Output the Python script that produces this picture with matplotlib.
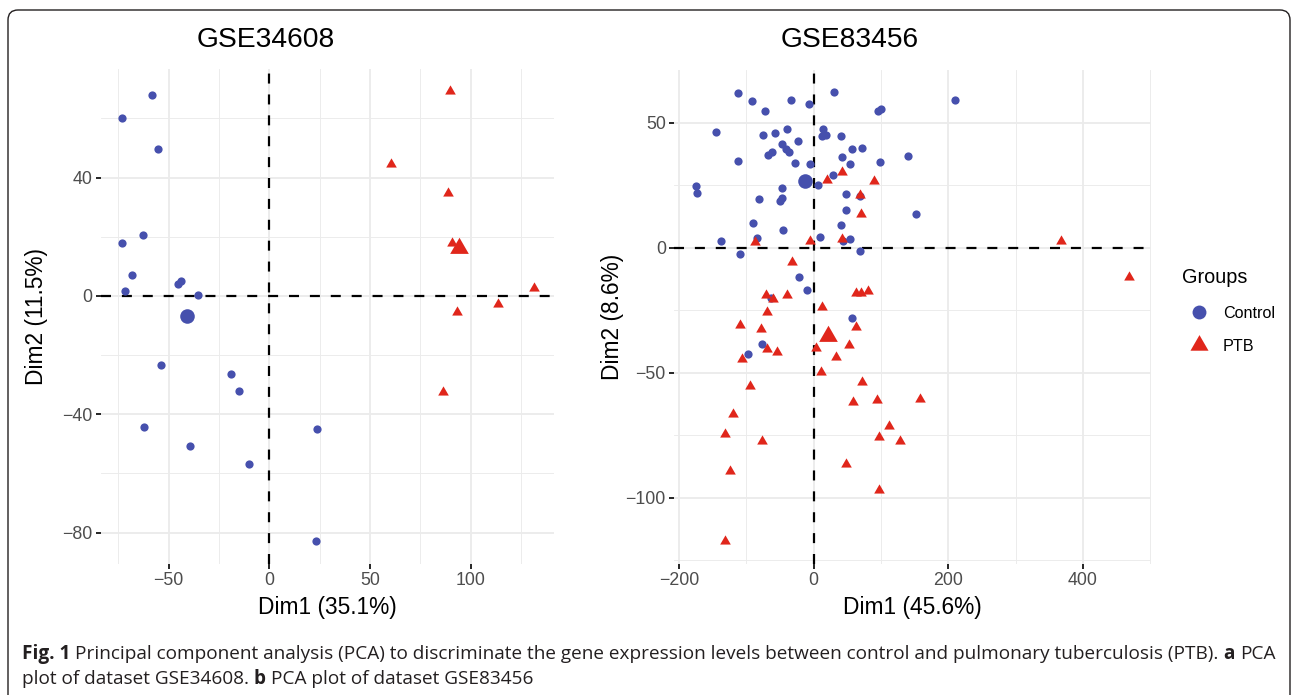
import matplotlib
matplotlib.use("Agg")
import matplotlib.pyplot as plt
from matplotlib import font_manager
from matplotlib.lines import Line2D
from matplotlib.path import Path
from matplotlib.patches import FancyBboxPatch
from matplotlib.transforms import IdentityTransform

# ---- data ----
groups = ["Control", "PTB"]

# GSE34608
a_ctrl_x = [-58.5, -73.4, -55.5, -62.9, -73.4, -68.0, -71.7, -45.6, -43.7, -35.2,
            -54.0, -19.0, -15.3, -62.3, 23.6, -39.4, -9.9, 23.4]
a_ctrl_y = [68.1, 60.1, 49.6, 20.5, 17.8, 7.1, 1.8, 4.1, 5.1, 0.3,
            -23.4, -26.4, -32.0, -44.2, -44.9, -50.7, -56.7, -82.9]
a_ptb_x = [89.6, 60.6, 88.9, 90.7, 131.3, 113.4, 93.3, 86.3]
a_ptb_y = [69.2, 44.5, 34.8, 17.8, 2.8, -2.6, -5.4, -32.5]
a_mean_x = [-40.8, 94.4]
a_mean_y = [-6.9, 16.1]

# GSE83456
b_ctrl_x = [-112.9, -92.1, -72.3, -33.7, -6.9, 30.2, 95.5, 100.5,
            -144.6, -75.2, -56.9, -39.1, -23.3, 13.9, 12.4, 18.3, 40.1,
            -46.5, -41.1, -36.6, -67.3, -61.4, -112.4, -27.2, -5.0,
            56.9, 71.3, 42.6, 53.5, 98.5, 139.6, 29.2, 5.9,
            -175.2, -173.3, -47.5, -81.7, -46.5, -49.5, 47.5, 68.8, 47.5, 151.5,
            -89.6, 41.1, -45.5, -138.1, -84.7, 8.9, 43.1, 54.0, -108.9, 69.3,
            -21.8, -9.4, 56.9, -76.2, -97.5, -62.9, 210.0]
b_ctrl_y = [62.0, 58.7, 54.8, 58.9, 57.5, 62.1, 54.8, 55.6,
            46.1, 45.2, 45.9, 47.3, 42.7, 47.6, 44.8, 44.9, 44.8,
            41.5, 39.6, 38.3, 36.9, 38.3, 34.7, 33.7, 33.3,
            39.6, 39.7, 36.4, 33.5, 34.3, 36.7, 29.2, 25.1,
            24.5, 21.7, 23.9, 19.3, 20.0, 18.7, 21.5, 20.7, 15.1, 13.6,
            10.0, 8.9, 6.9, 2.7, 3.9, 4.1, 2.5, 3.5, -2.7, -1.5,
            -11.9, -16.8, -28.1, -38.5, -42.7, -20.0, 59.0]
b_ptb_x = [19.8, 41.6, 89.1, 68.3, 69.8, -87.6, -5.9, 41.6, -31.7, 367.0, 469.0,
           -70.3, -59.9, -39.1, 11.9, -69.3, -108.9, -77.7, -69.3, -54.0, -106.4,
           3.0, 32.7, 52.5, 62.4, 62.4, 69.8, 80.7, 10.4, -94.6, 71.3, 57.9,
           94.6, 158.0, -119.8, -132.3, -77.5, 111.6, 97.3, 127.9, -124.1, 47.4,
           97.3, -132.2]
b_ptb_y = [27.1, 30.4, 26.7, 20.9, 13.5, 2.1, 2.8, 3.5, -5.9, 2.7, -11.9,
           -18.8, -20.4, -19.1, -23.7, -25.6, -30.9, -32.4, -40.5, -41.6, -44.7,
           -40.0, -43.7, -38.8, -31.7, -18.1, -18.1, -17.3, -49.7, -55.3, -53.7, -61.9,
           -60.8, -60.7, -66.4, -74.7, -77.3, -71.5, -75.7, -77.5, -89.3, -86.7,
           -96.8, -117.3]
b_mean_x = [-12.9, 20.8]
b_mean_y = [26.7, -35.2]

caption_line1 = [("Fig. 1", "bold"),
                 ("Principal component analysis (PCA) to discriminate the gene expression "
                  "levels between control and pulmonary tuberculosis (PTB).", "normal"),
                 ("a", "bold"), ("PCA", "normal")]
caption_line2 = [("plot of dataset GSE34608.", "normal"), ("b", "bold"),
                 ("PCA plot of dataset GSE83456", "normal")]

# ---- styling ----
W, H = 1293, 695
BLUE = "#4650AD"
RED = "#E0261B"
INK = "#231F20"
plt.rcParams["font.family"] = ["Liberation Sans", "DejaVu Sans"]

# equilateral triangle like ggplot shape 17
TRI = Path([(0, 0.577), (-0.5, -0.289), (0.5, -0.289), (0, 0.577)],
           [Path.MOVETO, Path.LINETO, Path.LINETO, Path.CLOSEPOLY])

fig = plt.figure(figsize=(W / 100, H / 100), dpi=100)


def rect(x0, y0, x1, y1):
    return [x0 / W, 1 - y1 / H, (x1 - x0) / W, (y1 - y0) / H]


def pca_panel(ax, cx, cy, px, py, mx, my, xlab, ylab, xt, yt, ylab_x):
    ax.scatter(cx, cy, s=35, marker="o", color=BLUE, linewidths=0, zorder=3)
    ax.scatter(px, py, s=78, marker=TRI, color=RED, linewidths=0, zorder=3)
    ax.scatter(mx[:1], my[:1], s=110, marker="o", color=BLUE, linewidths=0, zorder=4)
    ax.scatter(mx[1:], my[1:], s=240, marker=TRI, color=RED, linewidths=0, zorder=4)
    ax.axhline(0, color="black", lw=1.6, ls=(0, (4.5, 4.9)), zorder=2)
    ax.axvline(0, color="black", lw=1.6, ls=(0, (4.5, 4.9)), zorder=2)

    ax.set_xticks(xt)
    ax.set_yticks(yt)
    ax.set_xticks([(a + b) / 2 for a, b in zip(xt[:-1], xt[1:])] +
                  [xt[0] - (xt[1] - xt[0]) / 2, xt[-1] + (xt[1] - xt[0]) / 2], minor=True)
    ax.set_yticks([(a + b) / 2 for a, b in zip(yt[:-1], yt[1:])] +
                  [yt[0] - (yt[1] - yt[0]) / 2, yt[-1] + (yt[1] - yt[0]) / 2], minor=True)
    ax.set_xticklabels([str(v).replace("-", "\u2212") for v in xt])
    ax.set_yticklabels([str(v).replace("-", "\u2212") for v in yt])
    ax.grid(which="major", color="#EBEBEB", lw=1.3, zorder=0)
    ax.grid(which="minor", color="#EBEBEB", lw=0.65, zorder=0)
    ax.set_axisbelow(True)
    ax.tick_params(which="major", length=3.5, width=1.2, color="black",
                   labelsize=12.8, labelcolor="#4D4D4D", pad=2.5)
    ax.tick_params(which="minor", length=0)
    for sp in ax.spines.values():
        sp.set_visible(False)

    ax.set_xlabel(xlab, fontsize=16.4, va="center")
    ax.set_ylabel(ylab, fontsize=16.4, va="center", ha="center")
    ax.xaxis.set_label_coords(0.5, -0.0895)
    ax.yaxis.set_label_coords(ylab_x, 0.5)
    return ax


ax1 = fig.add_axes(rect(101, 68.8, 554.3, 563.7))
pca_panel(ax1, a_ctrl_x, a_ctrl_y, a_ptb_x, a_ptb_y, a_mean_x, a_mean_y,
          "Dim1 (35.1%)", "Dim2 (11.5%)", [-50, 0, 50, 100], [-80, -40, 0, 40], -0.143)
ax1.set_xlim(-83.6, 141.5)
ax1.set_ylim(-90.5, 76.8)

ax2 = fig.add_axes(rect(674.1, 70.0, 1151.0, 563.5))
pca_panel(ax2, b_ctrl_x, b_ctrl_y, b_ptb_x, b_ptb_y, b_mean_x, b_mean_y,
          "Dim1 (45.6%)", "Dim2 (8.6%)", [-200, 0, 200, 400], [-100, -50, 0, 50], -0.130)
ax2.set_xlim(-207.4, 501.2)
ax2.set_ylim(-126.3, 71.1)

fig.text(266 / W, 1 - 40 / H, "GSE34608", fontsize=20.3, ha="center", va="center")
fig.text(850 / W, 1 - 40 / H, "GSE83456", fontsize=20.3, ha="center", va="center")

handles = [Line2D([], [], ls="none", marker="o", ms=10, color=BLUE, mew=0),
           Line2D([], [], ls="none", marker=TRI, ms=15, color=RED, mew=0)]
leg = fig.legend(handles, groups, title="Groups", loc="upper left",
                 bbox_to_anchor=(1182 / W, 1 - 268 / H), frameon=False,
                 fontsize=11.6, title_fontsize=14.3, borderpad=0, borderaxespad=0,
                 handlelength=2.1, handletextpad=0.45, labelspacing=1.15, numpoints=1)
leg._legend_box.align = "left"

# rounded frame around the whole figure
frame = FancyBboxPatch((8, -20), 1282, H - 10 + 20,
                       boxstyle="round,pad=0,rounding_size=10",
                       transform=IdentityTransform(), fill=False,
                       edgecolor=INK, lw=1.0)
fig.patches.append(frame)

# caption, laid out run by run
names = {f.name for f in font_manager.fontManager.ttflist}
cap_family = next((n for n in ["Liberation Sans Narrow", "DejaVu Sans Condensed",
                               "Open Sans", "Noto Sans"] if n in names), "DejaVu Sans")
renderer = fig.canvas.get_renderer()


def run_width(txt, weight, size):
    t = fig.text(0, 0, txt, fontsize=size, fontweight=weight, family=cap_family)
    w = t.get_window_extent(renderer).width
    t.remove()
    return w


def line_width(runs, size):
    sp = run_width("x x", "normal", size) - run_width("xx", "normal", size)
    return sum(run_width(t, w, size) for t, w in runs) + sp * (len(runs) - 1), sp


base = 10.0
w0, _ = line_width(caption_line1, base)
cap_size = base * 1253 / w0


def draw_line(runs, y):
    x = 22
    _, sp = line_width(runs, cap_size)
    for txt, weight in runs:
        fig.text(x / W, 1 - y / H, txt, fontsize=cap_size, fontweight=weight,
                 family=cap_family, color=INK, va="baseline")
        x += run_width(txt, weight, cap_size) + sp


draw_line(caption_line1, 659)
draw_line(caption_line2, 684)

fig.savefig("out.png", dpi=100)
